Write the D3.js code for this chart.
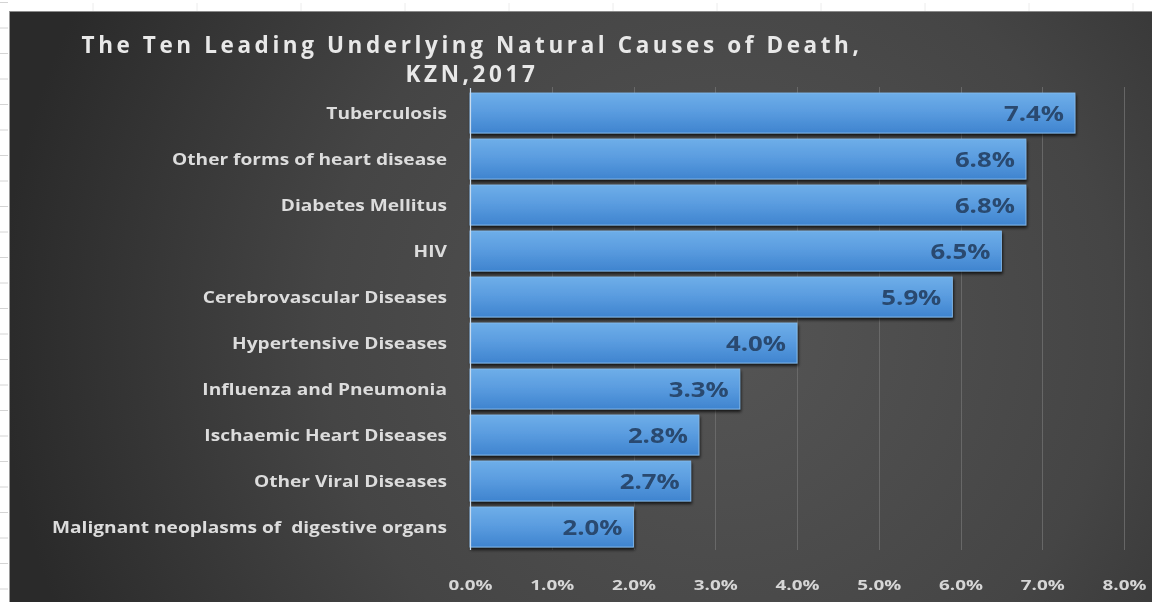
<!DOCTYPE html>
<html>
<head>
<meta charset="utf-8">
<script src="https://cdn.jsdelivr.net/npm/d3@7/dist/d3.min.js"></script>
<style>
  html, body { margin: 0; padding: 0; background: #ffffff; }
  svg { display: block; }
  svg text { white-space: pre; }
</style>
</head>
<body>
<svg id="chart" width="1152" height="602"></svg>
<script>
// Leading underlying natural causes of death, KZN 2017 (share of deaths, %)
const causes = [
  "Tuberculosis",
  "Other forms of heart disease",
  "Diabetes Mellitus",
  "HIV",
  "Cerebrovascular Diseases",
  "Hypertensive Diseases",
  "Influenza and Pneumonia",
  "Ischaemic Heart Diseases",
  "Other Viral Diseases",
  "Malignant neoplasms of  digestive organs"
];
const shares = [7.4, 6.8, 6.8, 6.5, 5.9, 4.0, 3.3, 2.8, 2.7, 2.0];
const xTicks = [0, 1, 2, 3, 4, 5, 6, 7, 8];
const titleLines = ["The Ten Leading Underlying Natural Causes of Death,", "KZN,2017"];

const W = 1152, H = 602;
const svg = d3.select("#chart");
const defs = svg.append("defs");

// panel background
const bg = defs.append("radialGradient").attr("id", "bgGrad")
  .attr("gradientUnits", "userSpaceOnUse")
  .attr("cx", 720).attr("cy", 330).attr("r", 720);
bg.append("stop").attr("offset", "0%").attr("stop-color", "#555555");
bg.append("stop").attr("offset", "55%").attr("stop-color", "#454545");
bg.append("stop").attr("offset", "100%").attr("stop-color", "#2a2a2a");

// bar fill
const barGrad = defs.append("linearGradient").attr("id", "barGrad")
  .attr("x1", 0).attr("y1", 0).attr("x2", 0).attr("y2", 1);
barGrad.append("stop").attr("offset", "0%").attr("stop-color", "#6eaee9");
barGrad.append("stop").attr("offset", "45%").attr("stop-color", "#5b9de0");
barGrad.append("stop").attr("offset", "100%").attr("stop-color", "#3f84cf");

const shadow = defs.append("filter").attr("id", "barShadow")
  .attr("x", "-5%").attr("y", "-20%").attr("width", "115%").attr("height", "160%");
shadow.append("feDropShadow").attr("dx", 1).attr("dy", 2.5).attr("stdDeviation", 1.5)
  .attr("flood-color", "#000000").attr("flood-opacity", 0.75);

const soft = defs.append("filter").attr("id", "soft");
soft.append("feGaussianBlur").attr("stdDeviation", 0.4);

// worksheet edge: row and column marks around the panel
const marks = svg.append("g").attr("stroke", "#d4d4d4").attr("stroke-width", 1);
d3.range(2.5, H, 25.5).forEach(y => {
  marks.append("line").attr("x1", 0).attr("x2", 8).attr("y1", y).attr("y2", y);
});
d3.range(1133, 0, -104).forEach(x => {
  marks.append("line").attr("x1", x).attr("x2", x).attr("y1", 3).attr("y2", 11)
    .attr("stroke", "#ececec");
});

// panel
svg.append("rect").attr("x", 9).attr("y", 11).attr("width", W - 9).attr("height", H - 11)
  .attr("fill", "url(#bgGrad)");
svg.append("line").attr("x1", 9).attr("x2", W).attr("y1", 11.5).attr("y2", 11.5)
  .attr("stroke", "#8a8a8a").attr("stroke-width", 1);
svg.append("line").attr("x1", 9.5).attr("x2", 9.5).attr("y1", 11).attr("y2", H)
  .attr("stroke", "#9a9a9a").attr("stroke-width", 1);

// scales
const x = d3.scaleLinear().domain([0, 8]).range([470, 1124]);
const y = d3.scaleBand().domain(causes).range([90, 550]).paddingInner(0.13).paddingOuter(0.065);

const fontFam = "'Open Sans', 'DejaVu Sans', sans-serif";

// gridlines
svg.append("g").selectAll("line").data(xTicks.slice(1)).join("line")
  .attr("x1", d => Math.round(x(d)) + 0.5).attr("x2", d => Math.round(x(d)) + 0.5)
  .attr("y1", 87).attr("y2", 550)
  .attr("stroke", "#707070").attr("stroke-width", 1).attr("opacity", 0.8);

// bars
const bars = svg.append("g");
bars.selectAll("rect").data(shares).join("rect")
  .attr("x", x(0))
  .attr("y", (d, i) => y(causes[i]))
  .attr("width", d => x(d) - x(0))
  .attr("height", y.bandwidth())
  .attr("fill", "url(#barGrad)")
  .attr("stroke", "#86bdf0").attr("stroke-width", 0.8)
  .attr("filter", "url(#barShadow)");

// category axis line
svg.append("line").attr("x1", x(0) + 0.5).attr("x2", x(0) + 0.5).attr("y1", 88).attr("y2", 550)
  .attr("stroke", "#c9dcef").attr("stroke-width", 1.2);

// stretch a text selection so that its widest member spans `target` px
function widenTo(sel, target) {
  let widest = 0;
  sel.each(function () { widest = Math.max(widest, this.getComputedTextLength()); });
  const k = target / widest;
  sel.each(function () {
    const len = this.getComputedTextLength();
    d3.select(this).attr("textLength", len * k).attr("lengthAdjust", "spacingAndGlyphs");
  });
}

// category labels
const catAxis = d3.axisLeft(y).tickSize(0).tickPadding(0);
const gCat = svg.append("g").attr("transform", `translate(447,0)`).call(catAxis);
gCat.select(".domain").remove();
gCat.selectAll("text")
  .attr("x", 0).attr("dy", "0.36em")
  .attr("fill", "#dcdcdc")
  .attr("font-family", fontFam).attr("font-weight", 700).attr("font-size", 15.5)
  .attr("filter", "url(#soft)")
  .call(widenTo, 395);

// value labels
const vals = svg.append("g").selectAll("text").data(shares).join("text")
  .attr("x", d => x(d) - 11)
  .attr("y", (d, i) => y(causes[i]) + y.bandwidth() / 2)
  .attr("dy", "0.37em")
  .attr("text-anchor", "end")
  .attr("fill", "#294a6f")
  .attr("font-family", fontFam).attr("font-weight", 700).attr("font-size", 21.5)
  .attr("filter", "url(#soft)")
  .text(d => d.toFixed(1) + "%");
vals.call(widenTo, 60);

// value axis labels
const valAxis = d3.axisBottom(x).tickValues(xTicks).tickSize(0).tickPadding(0)
  .tickFormat(d => d.toFixed(1) + "%");
const gVal = svg.append("g").attr("transform", `translate(0,585)`).call(valAxis);
gVal.select(".domain").remove();
gVal.selectAll("text")
  .attr("y", 0).attr("dy", "0.36em")
  .attr("fill", "#d6d6d6")
  .attr("font-family", fontFam).attr("font-weight", 700).attr("font-size", 15)
  .attr("filter", "url(#soft)")
  .call(widenTo, 44);

// title
const title = svg.append("g");
const tLines = title.selectAll("text").data(titleLines).join("text")
  .attr("x", 472)
  .attr("y", (d, i) => 53 + i * 29)
  .attr("text-anchor", "middle")
  .attr("fill", "#e8e8e8")
  .attr("font-family", fontFam).attr("font-weight", 700).attr("font-size", 22.5)
  .attr("filter", "url(#soft)")
  .text(d => d);
// spread the letters so the first line spans the header width
const first = tLines.nodes()[0];
const spacing = (781 - first.getComputedTextLength()) / titleLines[0].length;
tLines.attr("letter-spacing", spacing);
</script>
</body>
</html>
